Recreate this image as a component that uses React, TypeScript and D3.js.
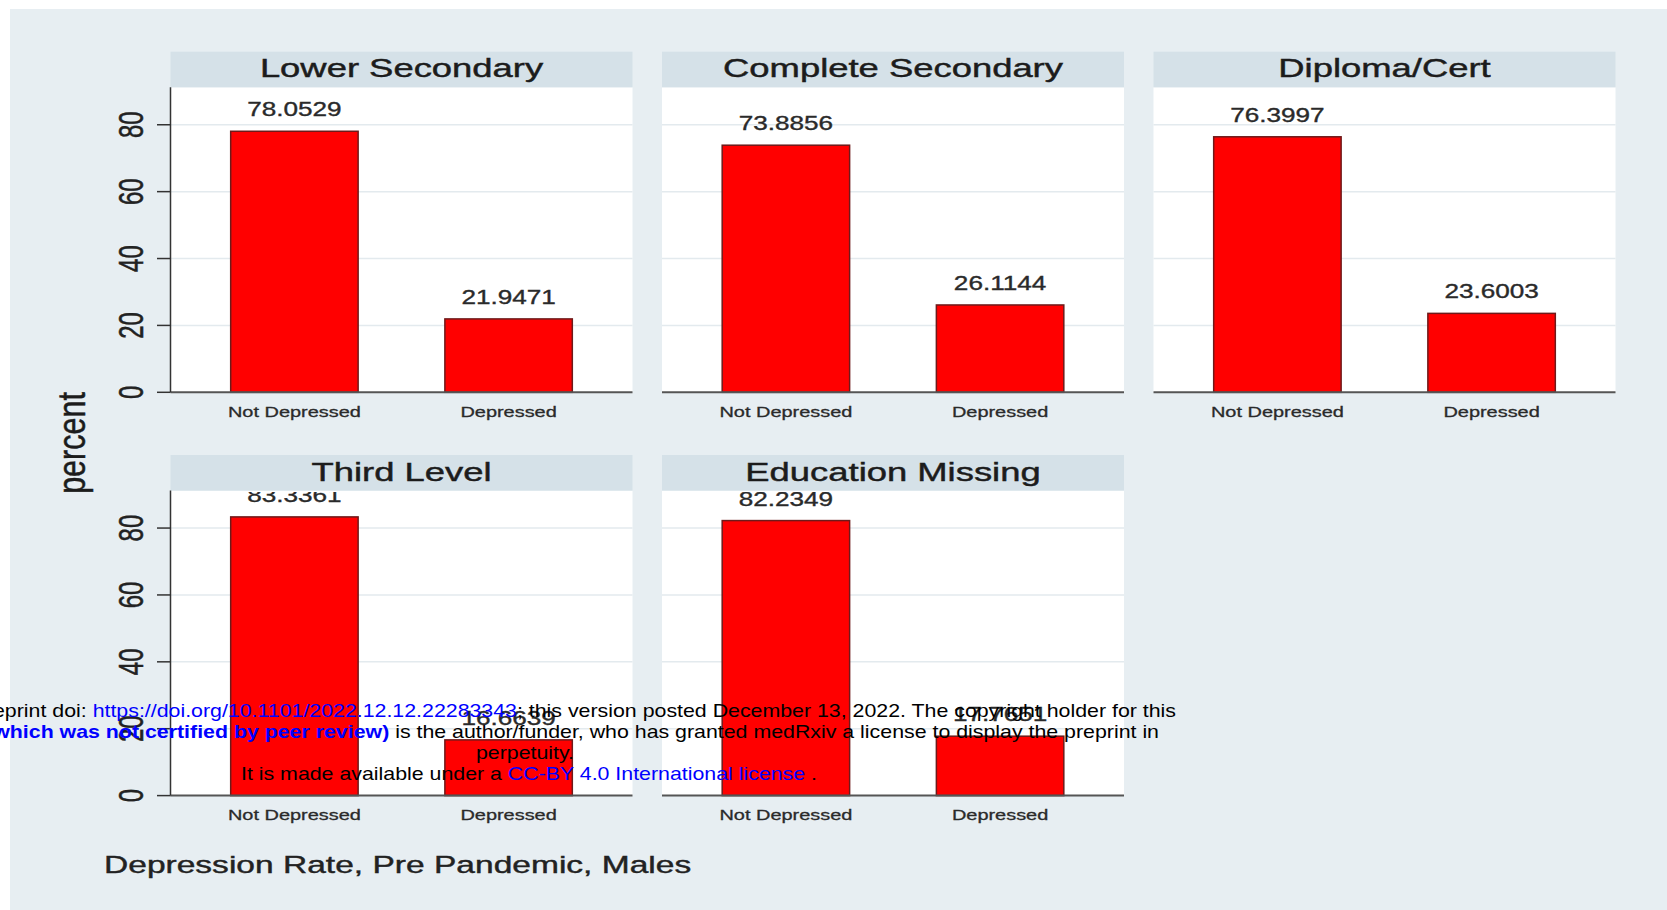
import React from "react";
import * as d3 from "d3";

// ---------- data ----------
const panelTitles = ["Lower Secondary", "Complete Secondary", "Diploma/Cert", "Third Level", "Education Missing"];
const categories = ["Not Depressed", "Depressed"];
const notDepressedPct = [78.0529, 73.8856, 76.3997, 83.3361, 82.2349];
const depressedPct = [21.9471, 26.1144, 23.6003, 16.6639, 17.7651];
const valueLabels = [
  ["78.0529", "21.9471"],
  ["73.8856", "26.1144"],
  ["76.3997", "23.6003"],
  ["83.3361", "16.6639"],
  ["82.2349", "17.7651"],
];
const yTicks = [0, 20, 40, 60, 80];
const yMax = 91.2;
const yTitle = "percent";
const noteText = "Depression Rate, Pre Pandemic, Males";

// ---------- layout ----------
const W = 1667;
const H = 910;
const colX = [170.5, 662, 1153.5];
const rowY = [51.7, 455];
const panelW = 462;
const stripH = 35.6;
const plotH = 305;
const FONT = "'Liberation Sans', Arial, Helvetica, sans-serif";

const BG = "#e7eef2";
const STRIP = "#d5e1e8";
const GRID = "#e3eaee";

function SText(props: any) {
  const { x, y, sx = 1, rot = 0, size, anchor = "middle", fill = "#222", weight = "normal", stroke, sw = 0, children } = props;
  return (
    <text
      transform={`translate(${x},${y}) scale(${sx},1)${rot ? ` rotate(${rot})` : ""}`}
      fontSize={size}
      fontFamily={FONT}
      textAnchor={anchor}
      fill={fill}
      fontWeight={weight}
      stroke={stroke}
      strokeWidth={sw}
    >
      {children}
    </text>
  );
}

function Panel({ idx }: { idx: number }) {
  const col = idx % 3;
  const row = Math.floor(idx / 3);
  const x0 = colX[col];
  const stripTop = rowY[row];
  const plotTop = stripTop + stripH;
  const base = plotTop + plotH;

  const y = d3.scaleLinear().domain([0, yMax]).range([plotH, 0]);
  const x = d3.scaleBand<string>().domain(categories).range([0, panelW]).paddingInner(0.405).paddingOuter(0.281);
  const vals = [notDepressedPct[idx], depressedPct[idx]];
  const clipId = `clip-${idx}`;

  return (
    <g>
      <defs>
        <clipPath id={clipId}>
          <rect x={0} y={1.5} width={panelW} height={plotH} />
        </clipPath>
      </defs>
      <g transform={`translate(${x0},${plotTop})`}>
        <rect x={0} y={0} width={panelW} height={plotH} fill="#ffffff" />
        {yTicks.filter((t) => t > 0).map((t) => (
          <line key={t} x1={0} x2={panelW} y1={y(t)} y2={y(t)} stroke={GRID} strokeWidth={1.5} />
        ))}
        {categories.map((c, i) => (
          <rect
            key={c}
            x={x(c)}
            y={y(vals[i])}
            width={x.bandwidth()}
            height={plotH - y(vals[i])}
            fill="#ff0000"
            stroke="#6e1a1a"
            strokeWidth={1.5}
          />
        ))}
        <g clipPath={`url(#${clipId})`}>
          {categories.map((c, i) => (
            <SText key={c} x={(x(c) as number) + x.bandwidth() / 2} y={y(vals[i]) - 15} size={19.5} sx={1.34} fill="#2a2a2a" stroke="#2a2a2a" sw={0.35}>
              {valueLabels[idx][i]}
            </SText>
          ))}
        </g>
        {categories.map((c) => (
          <SText key={c} x={(x(c) as number) + x.bandwidth() / 2} y={plotH + 24.6} size={15} sx={1.33} fill="#2a2a2a" stroke="#2a2a2a" sw={0.3}>
            {c}
          </SText>
        ))}
      </g>
      {/* strip */}
      <rect x={x0} y={stripTop} width={panelW} height={stripH} fill={STRIP} />
      <SText x={x0 + panelW / 2} y={stripTop + 25.6} size={26} sx={1.4} fill="#1c1c1c" stroke="#1c1c1c" sw={0.45}>
        {panelTitles[idx]}
      </SText>
      {/* x axis baseline */}
      <line x1={x0} x2={x0 + panelW} y1={base} y2={base} stroke="#555" strokeWidth={2} />
      {/* y axis (first column only) */}
      {col === 0 && (
        <g transform={`translate(${x0},${plotTop})`}>
          <line x1={0} x2={0} y1={0} y2={plotH} stroke="#333" strokeWidth={1.5} />
          {yTicks.map((t) => (
            <g key={t}>
              <line x1={-13.5} x2={0} y1={y(t)} y2={y(t)} stroke="#333" strokeWidth={1.5} />
              <SText x={-27.5} y={y(t)} size={24} sx={1.43} rot={-90} fill="#222" stroke="#222" sw={0.35}>
                {String(t)}
              </SText>
            </g>
          ))}
        </g>
      )}
    </g>
  );
}

const BLUE = "#0000ff";

export default function App() {
  return (
    <svg width={W} height={H} style={{ position: "absolute", left: 0, top: 0, display: "block" }}>
      <rect x={0} y={0} width={W} height={H} fill="#ffffff" />
      <rect x={10} y={9} width={W - 10} height={H - 9} fill={BG} />
      {panelTitles.map((_, i) => (
        <Panel key={i} idx={i} />
      ))}
      <SText x={85} y={443} size={30.5} sx={1.25} rot={-90} fill="#1c1c1c" stroke="#1c1c1c" sw={0.4}>
        {yTitle}
      </SText>
      <SText x={104} y={873} size={23.3} sx={1.44} anchor="start" fill="#222" stroke="#222" sw={0.4}>
        {noteText}
      </SText>
      {/* medRxiv watermark */}
      <g>
        <SText x={1176} y={717} size={18} sx={1.186} anchor="end" fill="#000">
          <tspan>medRxiv preprint doi: </tspan>
          <tspan fill={BLUE}>https://doi.org/10.1101/2022.12.12.22283343</tspan>
          <tspan>; this version posted December 13, 2022. The copyright holder for this</tspan>
        </SText>
        <SText x={1159} y={738} size={18} sx={1.186} anchor="end" fill="#000">
          <tspan>preprint </tspan>
          <tspan fill={BLUE} fontWeight="bold">(which was not certified by peer review)</tspan>
          <tspan> is the author/funder, who has granted medRxiv a license to display the preprint in</tspan>
        </SText>
        <SText x={525} y={759} size={18} sx={1.186} fill="#000">
          perpetuity.
        </SText>
        <SText x={529} y={780} size={18} sx={1.186} fill="#000">
          <tspan>It is made available under a </tspan>
          <tspan fill={BLUE}>CC-BY 4.0 International license</tspan>
          <tspan> .</tspan>
        </SText>
      </g>
    </svg>
  );
}
